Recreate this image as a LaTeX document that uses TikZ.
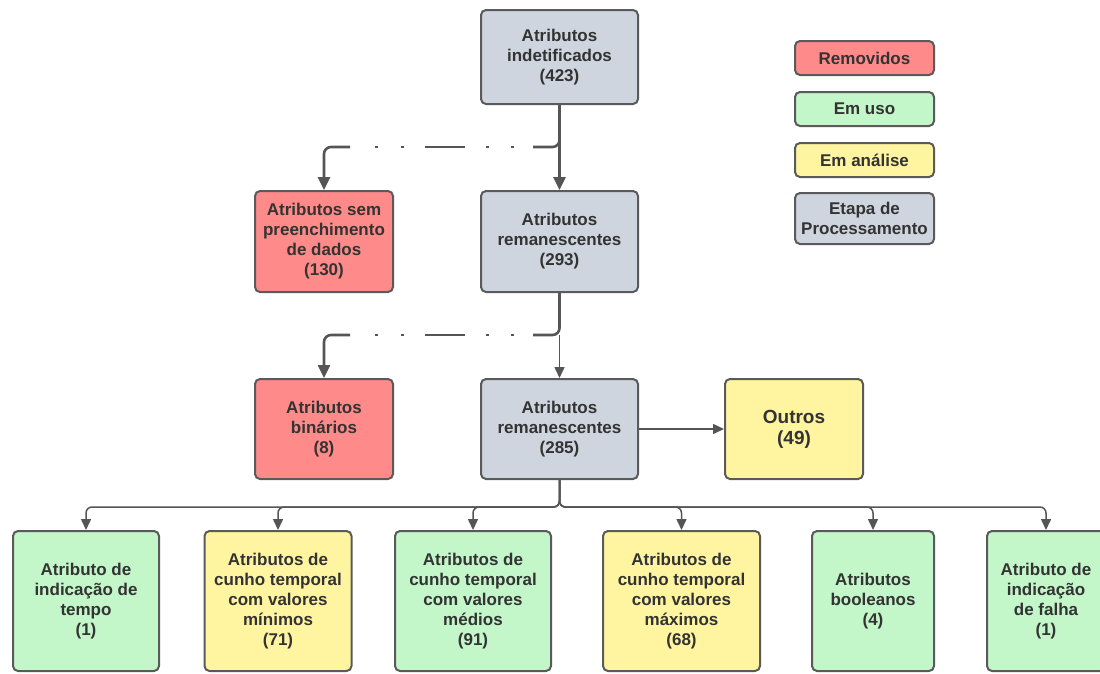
\documentclass[tikz,border=0pt]{standalone}
\usepackage{fontspec}
\setmainfont{Liberation Sans}
\usetikzlibrary{arrows.meta}
\definecolor{redf}{HTML}{FF8A8A}
\definecolor{greenf}{HTML}{C3F6C9}
\definecolor{yellowf}{HTML}{FFF5A0}
\definecolor{grayf}{HTML}{CFD5DE}
\definecolor{edgec}{HTML}{5A5A5A}
\definecolor{txt}{HTML}{333333}
\definecolor{linec}{HTML}{555555}
\begin{document}
\begin{tikzpicture}[x=1pt,y=-1pt,
  box/.style={draw=edgec, line width=2pt, rounded corners=5pt, align=center, text=txt,
    font=\fontsize{17}{20}\selectfont\bfseries, inner sep=0pt},
  thickline/.style={draw=linec, line width=2.6pt},
  thinline/.style={draw=linec, line width=1.5pt},
  bigtip/.style={-{Triangle[length=13pt,width=12pt]}},
  smalltip/.style={-{Triangle[length=11pt,width=10pt]}},
  dashdot/.style={thickline, dash pattern=on 0pt off 19pt on 3pt off 22pt on 3pt off 21pt on 40pt off 21pt on 3pt off 23pt on 3pt off 21pt}
]
\useasboundingbox (0,0) rectangle (1100,673);
\clip (0,0) rectangle (1100,673);
\fill[white] (0,0) rectangle (1100,673);

% main column
\node[box, fill=grayf, minimum width=157pt, minimum height=94pt] (top) at (559.5,57) {Atributos\\indetificados\\(423)};
\node[box, fill=redf, minimum width=138pt, minimum height=101pt] (sem) at (324,241.5) {Atributos sem\\preenchimento\\de dados\\(130)};
\node[box, fill=grayf, minimum width=157pt, minimum height=101pt] (rem1) at (559.5,241.5) {Atributos\\remanescentes\\(293)};
\node[box, fill=redf, minimum width=138pt, minimum height=100pt] (bin) at (324,429) {Atributos\\binários\\(8)};
\node[box, fill=grayf, minimum width=157pt, minimum height=100pt] (rem2) at (559.5,429) {Atributos\\remanescentes\\(285)};
\node[box, fill=yellowf, minimum width=138pt, minimum height=100pt, font=\fontsize{19}{21}\selectfont\bfseries] (outros) at (794,429) {Outros\\(49)};

% legend
\node[box, fill=redf, minimum width=139pt, minimum height=34pt] (lrem) at (864.5,58) {Removidos};
\node[box, fill=greenf, minimum width=139pt, minimum height=34pt] (luso) at (864.5,109) {Em uso};
\node[box, fill=yellowf, minimum width=139pt, minimum height=34pt] (lana) at (864.5,160) {Em análise};
\node[box, fill=grayf, minimum width=139pt, minimum height=51pt] (letapa) at (864.5,218.5) {Etapa de\\Processamento};

% bottom row
\node[box, fill=greenf, minimum width=146pt, minimum height=140pt] (c1) at (86,601) {Atributo de\\indicação de\\tempo\\(1)};
\node[box, fill=yellowf, minimum width=147pt, minimum height=140pt] (c2) at (278,601) {Atributos de\\cunho temporal\\com valores\\mínimos\\(71)};
\node[box, fill=greenf, minimum width=156pt, minimum height=140pt] (c3) at (473,601) {Atributos de\\cunho temporal\\com valores\\médios\\(91)};
\node[box, fill=yellowf, minimum width=157pt, minimum height=140pt] (c4) at (681.5,601) {Atributos de\\cunho temporal\\com valores\\máximos\\(68)};
\node[box, fill=greenf, minimum width=122pt, minimum height=140pt] (c5) at (873,601) {Atributos\\booleanos\\(4)};
\node[box, fill=greenf, minimum width=118pt, minimum height=140pt] (c6) at (1046,601) {Atributo de\\indicação\\de falha\\(1)};

% first split
\coordinate (a1) at (533,147);
\coordinate (a2) at (350,147);
\draw[thickline, bigtip] (top.south) -- (rem1.north);
\draw[thickline, rounded corners=7pt] (top.south) |- (a1);
\draw[dashdot] (a1) -- (a2);
\draw[thickline, rounded corners=7pt, bigtip] (a2) -| (sem.north);

% second split
\coordinate (b0) at (559.5,335);
\coordinate (b1) at (533,335);
\coordinate (b2) at (350,335);
\draw[thickline, rounded corners=7pt] (rem1.south) |- (b1);
\draw[thinline, smalltip] (b0) -- (rem2.north);
\draw[dashdot] (b1) -- (b2);
\draw[thickline, rounded corners=7pt, bigtip] (b2) -| (bin.north);

% to Outros
\draw[thinline, smalltip] (rem2.east) -- (outros.west);

% tree
\coordinate (tj) at (559.5,507);
\foreach \c in {c1,c2,c3,c4,c5,c6}
  \draw[thinline, rounded corners=6pt, smalltip] (rem2.south) -- (tj) -| (\c.north);
\end{tikzpicture}
\end{document}
